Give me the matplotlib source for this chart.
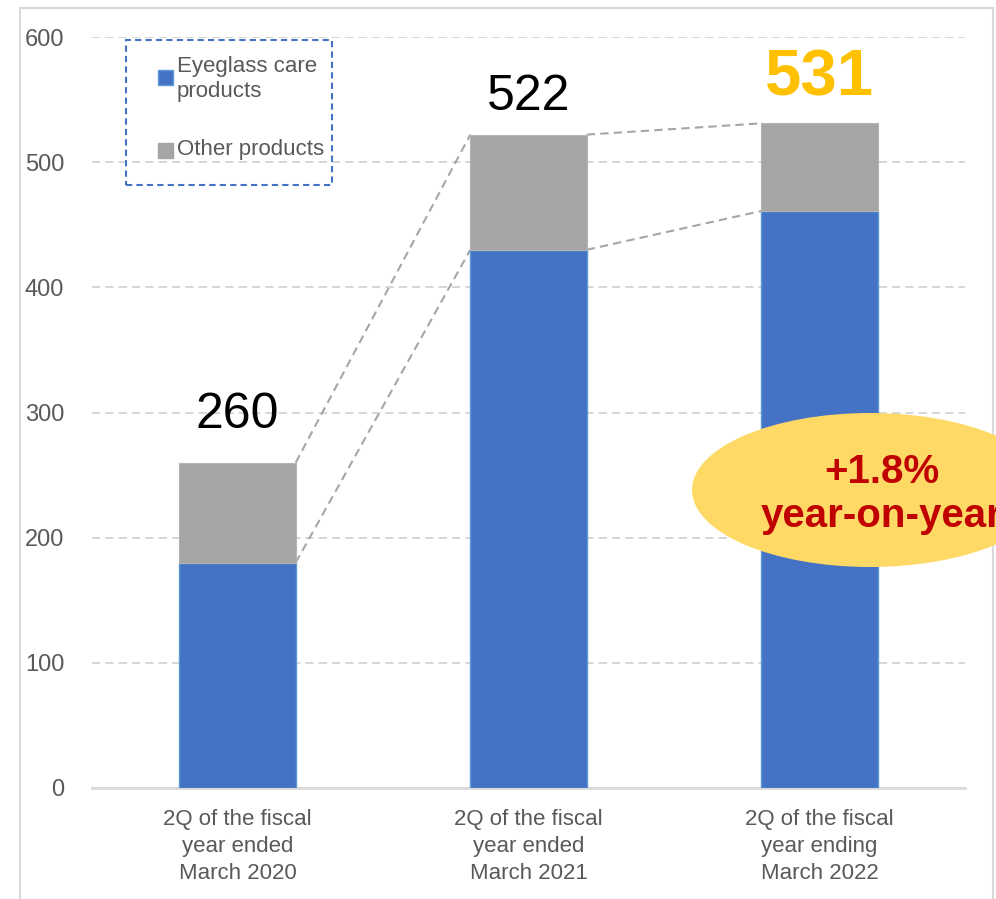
import matplotlib.pyplot as plt
from matplotlib.patches import Rectangle, Ellipse

plt.rcParams['font.family'] = ['Liberation Sans', 'DejaVu Sans']

# quarterly sales, stacked by product group
periods = ["2Q of the fiscal\nyear ended\nMarch 2020",
           "2Q of the fiscal\nyear ended\nMarch 2021",
           "2Q of the fiscal\nyear ending\nMarch 2022"]
totals = [260, 522, 531]
eyeglass_care = [180, 430, 461]
other_products = [t - e for t, e in zip(totals, eyeglass_care)]
yoy_note = "+1.8%\nyear-on-year"

BLUE = "#4472C4"
GRAY = "#A5A5A5"
TEXT = "#595959"
W, H = 996, 899

fig = plt.figure(figsize=(W / 100, H / 100), dpi=100)

# light frame around the whole chart
fig.patches.append(Rectangle((20 / W, -0.01), 973 / W, 1 - 8 / H + 0.01,
                             transform=fig.transFigure, fill=False,
                             edgecolor="#D9D9D9", linewidth=1.5))

ax = fig.add_axes([92 / W, 111 / H, 873 / W, 751 / H])
x = range(len(periods))
bw = 0.4
ax.bar(x, eyeglass_care, width=bw, color=BLUE, edgecolor="#5B9BD5", linewidth=1, zorder=3)
ax.bar(x, other_products, width=bw, bottom=eyeglass_care, color=GRAY,
       edgecolor="#B4B4B4", linewidth=0.8, zorder=3)

# dashed connectors between neighbouring bars
for i in range(len(periods) - 1):
    for vals in (totals, eyeglass_care):
        ax.plot([i + bw / 2, i + 1 - bw / 2], [vals[i], vals[i + 1]],
                ls=(0, (4, 2.5)), color="#A6A6A6", lw=1.5, zorder=2)

# total labels above bars
label_pad = [20, 12, 12]
for i, t in enumerate(totals):
    if i == len(totals) - 1:
        ax.text(i, t + label_pad[i], str(t), ha="center", va="bottom", fontsize=47,
                fontweight="bold", color="#FFC000", clip_on=False)
    else:
        ax.text(i, t + label_pad[i], str(t), ha="center", va="bottom", fontsize=36,
                color="black", clip_on=False)

ax.set_xlim(-0.5, len(periods) - 0.5)
ax.set_ylim(0, 600)
ax.set_yticks(range(0, 601, 100))
ax.set_xticks(list(x))
ax.set_xticklabels(periods, fontsize=16, color=TEXT, linespacing=1.38)
ax.tick_params(axis="y", length=0, pad=20, labelsize=17, labelcolor=TEXT)
ax.tick_params(axis="x", length=0, pad=15)
ax.yaxis.grid(True, ls=(0, (5, 3)), color="#D0D0D0", lw=1.2)
ax.set_axisbelow(True)
for s in ("top", "right", "left"):
    ax.spines[s].set_visible(False)
ax.spines["bottom"].set_color("#D9D9D9")
ax.spines["bottom"].set_linewidth(2)

# legend box
fig.patches.append(Rectangle((126 / W, 1 - 185 / H), 206 / W, 145 / H,
                             transform=fig.transFigure, fill=False,
                             edgecolor=BLUE, ls=(0, (3, 2)), lw=1.5))
fig.patches.append(Rectangle((158 / W, 1 - 85 / H), 15 / W, 15 / H,
                             transform=fig.transFigure, facecolor=BLUE,
                             edgecolor="#5B9BD5", lw=1))
fig.patches.append(Rectangle((158 / W, 1 - 158 / H), 15 / W, 15 / H,
                             transform=fig.transFigure, facecolor=GRAY,
                             edgecolor=GRAY, lw=1))
fig.text(177 / W, 1 - 79 / H, "Eyeglass care\nproducts", fontsize=16,
         color=TEXT, va="center", ha="left", linespacing=1.3)
fig.text(177 / W, 1 - 150 / H, "Other products", fontsize=16,
         color=TEXT, va="center", ha="left")

# year-on-year callout
fig.patches.append(Ellipse((870 / W, 1 - 490 / H), 356 / W, 154 / H,
                           transform=fig.transFigure, facecolor="#FFD966",
                           edgecolor="none", zorder=5))
fig.text(882 / W, 1 - 494 / H, yoy_note, fontsize=29, fontweight="bold",
         color="#C00000", ha="center", va="center", linespacing=1.2, zorder=6)

fig.savefig("out.png", dpi=100)
